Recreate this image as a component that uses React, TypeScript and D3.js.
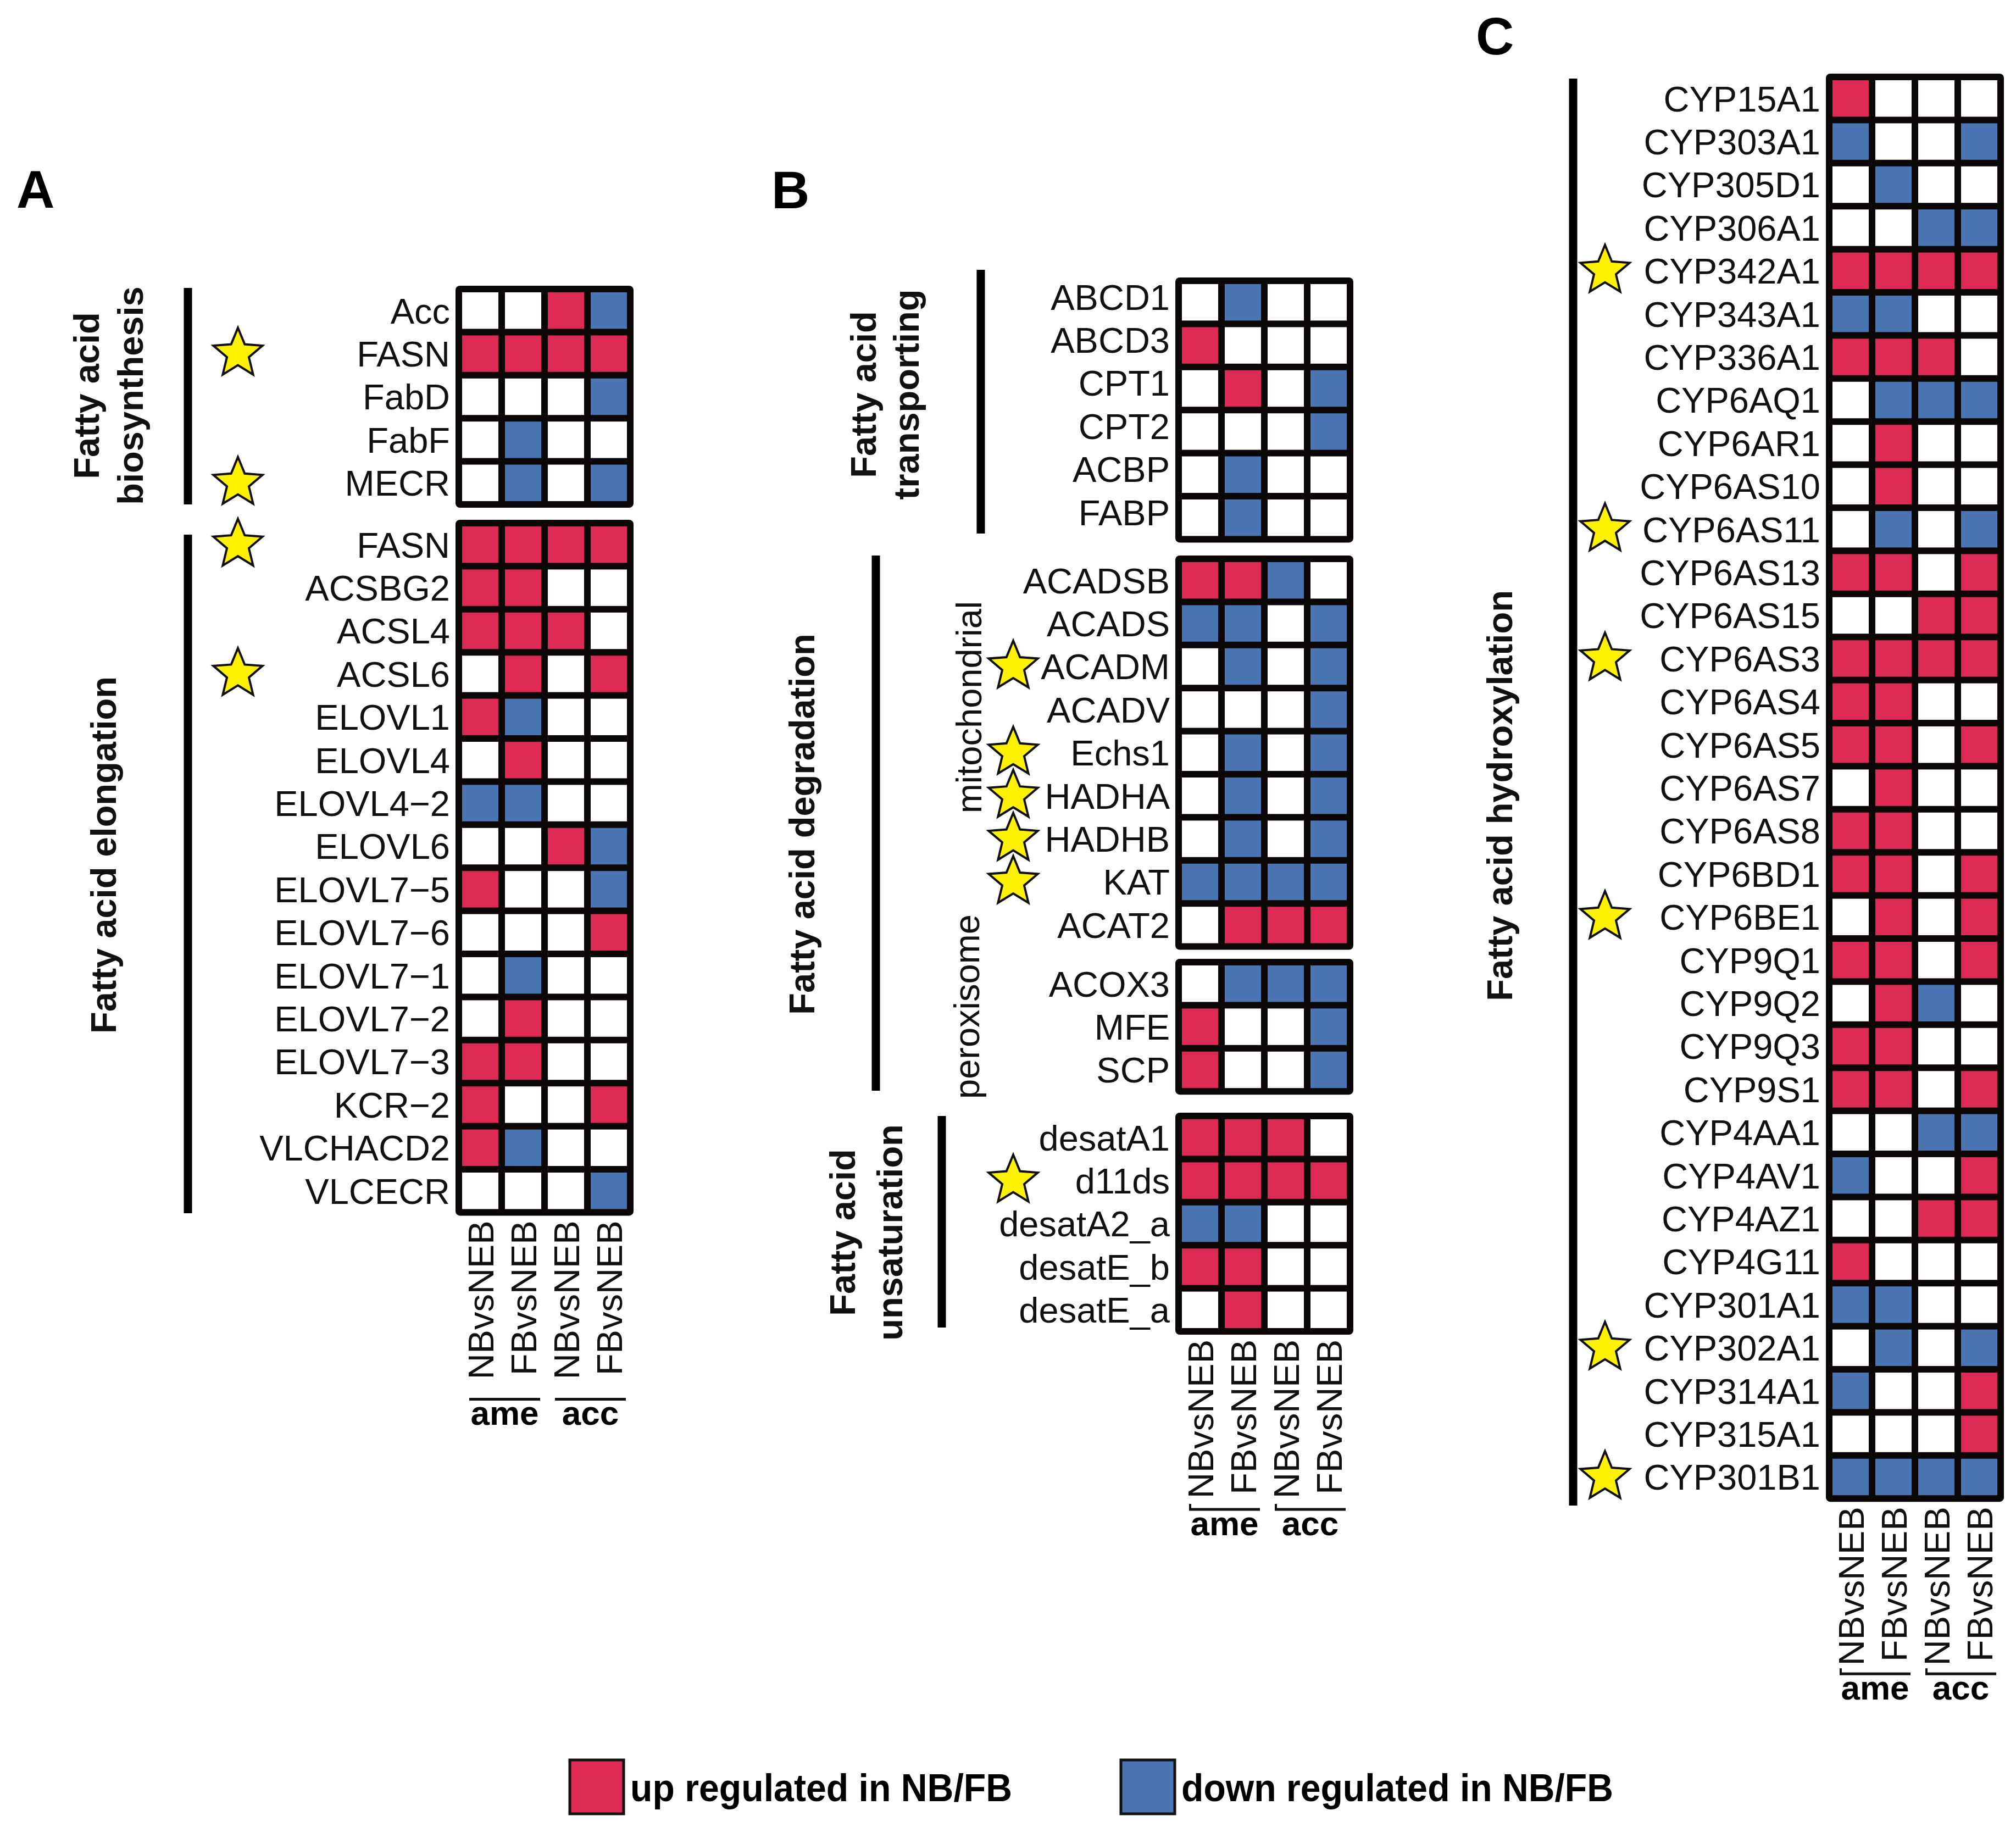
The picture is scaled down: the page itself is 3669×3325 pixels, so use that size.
import * as d3 from 'd3'

const UP = '#DD2A55'
const DOWN = '#4A74B2'
const STAR = '#FFF200'
const FONT = 'Liberation Sans, Arial, Helvetica, sans-serif'

// columns of every heatmap
const columnKeys = ['ame-NB', 'ame-FB', 'acc-NB', 'acc-FB']
const comparisons = ['NBvsNEB', 'FBvsNEB', 'NBvsNEB', 'FBvsNEB']
const speciesNames = ['ame', 'acc']

// 1 = up regulated, -1 = down regulated, 0 = not changed
// A: fatty acid biosynthesis
const synthGenes = ['Acc', 'FASN', 'FabD', 'FabF', 'MECR']
const synthCalls = [[0, 0, 1, -1], [1, 1, 1, 1], [0, 0, 0, -1], [0, -1, 0, 0], [0, -1, 0, -1]]
const synthStars = ['FASN', 'MECR']

// A: fatty acid elongation
const elongGenes = ['FASN', 'ACSBG2', 'ACSL4', 'ACSL6', 'ELOVL1', 'ELOVL4', 'ELOVL4−2', 'ELOVL6', 'ELOVL7−5', 'ELOVL7−6', 'ELOVL7−1', 'ELOVL7−2', 'ELOVL7−3', 'KCR−2', 'VLCHACD2', 'VLCECR']
const elongCalls = [
  [1, 1, 1, 1], [1, 1, 0, 0], [1, 1, 1, 0], [0, 1, 0, 1], [1, -1, 0, 0], [0, 1, 0, 0],
  [-1, -1, 0, 0], [0, 0, 1, -1], [1, 0, 0, -1], [0, 0, 0, 1], [0, -1, 0, 0], [0, 1, 0, 0],
  [1, 1, 0, 0], [1, 0, 0, 1], [1, -1, 0, 0], [0, 0, 0, -1]
]
const elongStars = ['FASN', 'ACSL6']

// B: fatty acid transporting
const transGenes = ['ABCD1', 'ABCD3', 'CPT1', 'CPT2', 'ACBP', 'FABP']
const transCalls = [[0, -1, 0, 0], [1, 0, 0, 0], [0, 1, 0, -1], [0, 0, 0, -1], [0, -1, 0, 0], [0, -1, 0, 0]]
const transStars: string[] = []

// B: degradation, mitochondrial
const mitoGenes = ['ACADSB', 'ACADS', 'ACADM', 'ACADV', 'Echs1', 'HADHA', 'HADHB', 'KAT', 'ACAT2']
const mitoCalls = [
  [1, 1, -1, 0], [-1, -1, 0, -1], [0, -1, 0, -1], [0, 0, 0, -1], [0, -1, 0, -1],
  [0, -1, 0, -1], [0, -1, 0, -1], [-1, -1, -1, -1], [0, 1, 1, 1]
]
const mitoStars = ['ACADM', 'Echs1', 'HADHA', 'HADHB', 'KAT']

// B: degradation, peroxisome
const peroxGenes = ['ACOX3', 'MFE', 'SCP']
const peroxCalls = [[0, -1, -1, -1], [1, 0, 0, -1], [1, 0, 0, -1]]
const peroxStars: string[] = []

// B: fatty acid unsaturation
const desatGenes = ['desatA1', 'd11ds', 'desatA2_a', 'desatE_b', 'desatE_a']
const desatCalls = [[1, 1, 1, 0], [1, 1, 1, 1], [-1, -1, 0, 0], [1, 1, 0, 0], [0, 1, 0, 0]]
const desatStars = ['d11ds']

// C: fatty acid hydroxylation
const cypGenes = [
  'CYP15A1', 'CYP303A1', 'CYP305D1', 'CYP306A1', 'CYP342A1', 'CYP343A1', 'CYP336A1', 'CYP6AQ1',
  'CYP6AR1', 'CYP6AS10', 'CYP6AS11', 'CYP6AS13', 'CYP6AS15', 'CYP6AS3', 'CYP6AS4', 'CYP6AS5',
  'CYP6AS7', 'CYP6AS8', 'CYP6BD1', 'CYP6BE1', 'CYP9Q1', 'CYP9Q2', 'CYP9Q3', 'CYP9S1',
  'CYP4AA1', 'CYP4AV1', 'CYP4AZ1', 'CYP4G11', 'CYP301A1', 'CYP302A1', 'CYP314A1', 'CYP315A1', 'CYP301B1'
]
const cypCalls = [
  [1, 0, 0, 0], [-1, 0, 0, -1], [0, -1, 0, 0], [0, 0, -1, -1], [1, 1, 1, 1], [-1, -1, 0, 0],
  [1, 1, 1, 0], [0, -1, -1, -1], [0, 1, 0, 0], [0, 1, 0, 0], [0, -1, 0, -1], [1, 1, 0, 1],
  [0, 0, 1, 1], [1, 1, 1, 1], [1, 1, 0, 0], [1, 1, 0, 1], [0, 1, 0, 0], [1, 1, 0, 0],
  [1, 1, 0, 1], [0, 1, 0, 1], [1, 1, 0, 1], [0, 1, -1, 0], [1, 1, 0, 0], [1, 1, 0, 1],
  [0, 0, -1, -1], [-1, 0, 0, 1], [0, 0, 1, 1], [1, 0, 0, 0], [-1, -1, 0, 0], [0, -1, 0, -1],
  [-1, 0, 0, 1], [0, 0, 0, 1], [-1, -1, -1, -1]
]
const cypStars = ['CYP342A1', 'CYP6AS11', 'CYP6AS3', 'CYP6BE1', 'CYP302A1', 'CYP301B1']

const legendLabels = ['up regulated in NB/FB', 'down regulated in NB/FB']

// layout
const CELL_W = 78
const CELL_H = 78.4
const GAP = 12

interface Block { genes: string[]; calls: number[][]; stars: string[]; top: number; labelShift?: number }
interface Panel { id: string; labelX: number; labelY: number; left: number; starX: number; lineOffset: number; tick: boolean; blocks: Block[] }

const panels: Panel[] = [
  {
    id: 'A', labelX: 30, labelY: 378, left: 829, starX: 433, lineOffset: 334, tick: false,
    blocks: [
      { genes: synthGenes, calls: synthCalls, stars: synthStars, top: 520 },
      { genes: elongGenes, calls: elongCalls, stars: elongStars, top: 946 }
    ]
  },
  {
    id: 'B', labelX: 1404, labelY: 379, left: 2139, starX: 1844, lineOffset: 318, tick: true,
    blocks: [
      { genes: transGenes, calls: transCalls, stars: transStars, top: 505, labelShift: -10 },
      { genes: mitoGenes, calls: mitoCalls, stars: mitoStars, top: 1011 },
      { genes: peroxGenes, calls: peroxCalls, stars: peroxStars, top: 1745 },
      { genes: desatGenes, calls: desatCalls, stars: desatStars, top: 2025 }
    ]
  },
  {
    id: 'C', labelX: 2686, labelY: 99, left: 3323, starX: 2921, lineOffset: 313, tick: true,
    blocks: [{ genes: cypGenes, calls: cypCalls, stars: cypStars, top: 134 }]
  }
]

// vertical brackets and group titles
const bars = [
  { x: 342, y1: 524, y2: 918 },
  { x: 342, y1: 973, y2: 2208 },
  { x: 1785, y1: 491, y2: 971 },
  { x: 1594, y1: 1011, y2: 1985 },
  { x: 1714, y1: 2031, y2: 2416 },
  { x: 2863, y1: 143, y2: 2740 }
]

const groupTitles = [
  { lines: ['Fatty acid', 'biosynthesis'], xs: [180, 260], cy: 720, bold: true },
  { lines: ['Fatty acid elongation'], xs: [211], cy: 1556, bold: true },
  { lines: ['Fatty acid', 'transporting'], xs: [1594, 1672], cy: 718, bold: true },
  { lines: ['Fatty acid degradation'], xs: [1482], cy: 1500, bold: true },
  { lines: ['Fatty acid', 'unsaturation'], xs: [1556, 1642], cy: 2243, bold: true },
  { lines: ['mitochondrial'], xs: [1786], cy: 1287, bold: false },
  { lines: ['peroxisome'], xs: [1782], cy: 1832, bold: false },
  { lines: ['Fatty acid hydroxylation'], xs: [2752], cy: 1448, bold: true }
]

const color = d3.scaleOrdinal<number, string>().domain([1, -1, 0]).range([UP, DOWN, 'white'])

function starPath(R: number, r: number) {
  const pts: [number, number][] = d3.range(10).map(k => [(k * Math.PI) / 5, k % 2 === 0 ? R : r])
  return d3.lineRadial().curve(d3.curveLinearClosed)(pts) as string
}
const STAR_D = starPath(47, 21)

function HeatBlock({ block, left, starX }: { block: Block; left: number; starX: number }) {
  const keys = block.genes.map((g, i) => g + i)
  const x = d3.scaleBand<string>().domain(columnKeys).range([left + GAP / 2, left + GAP / 2 + 4 * CELL_W])
  const y = d3.scaleBand<string>().domain(keys)
    .range([block.top + GAP / 2, block.top + GAP / 2 + block.genes.length * CELL_H])
  const shift = block.labelShift ?? 0
  return (
    <g>
      <rect x={left} y={block.top} width={4 * CELL_W + GAP} height={block.genes.length * CELL_H + GAP} rx={8} fill="#0b0706" />
      {block.calls.map((row, i) =>
        row.map((v, j) => (
          <rect key={`${i}-${j}`}
            x={(x(columnKeys[j]) as number) + GAP / 2}
            y={(y(keys[i]) as number) + GAP / 2}
            width={x.bandwidth() - GAP}
            height={y.bandwidth() - GAP}
            fill={color(v)} />
        ))
      )}
      {block.genes.map((g, i) => (
        <text key={g} x={left - 10} y={(y(keys[i]) as number) + y.bandwidth() / 2 + shift} dy="0.36em"
          textAnchor="end" fontSize={65} fontFamily={FONT} fill="#111">{g}</text>
      ))}
      {block.genes.map((g, i) => block.stars.includes(g) ? (
        <path key={'s' + g} d={STAR_D}
          transform={`translate(${starX},${(y(keys[i]) as number) + y.bandwidth() / 2})`}
          fill={STAR} stroke="#111" strokeWidth={4} strokeLinejoin="miter" />
      ) : null)}
    </g>
  )
}

function PanelView({ p }: { p: Panel }) {
  const last = p.blocks[p.blocks.length - 1]
  const bottom = last.top + last.genes.length * CELL_H + GAP
  const x = d3.scaleBand<string>().domain(columnKeys).range([p.left + GAP / 2, p.left + GAP / 2 + 4 * CELL_W])
  const lineY = bottom + p.lineOffset
  return (
    <g>
      <text x={p.labelX} y={p.labelY} fontSize={96} fontWeight="bold" fontFamily={FONT}>{p.id}</text>
      {p.blocks.map((b, i) => <HeatBlock key={i} block={b} left={p.left} starX={p.starX} />)}
      {columnKeys.map((k, j) => {
        const cx = (x(k) as number) + x.bandwidth() / 2 + 24
        return (
          <text key={k} transform={`translate(${cx},${bottom + 9}) rotate(-90)`} textAnchor="end"
            fontSize={65} fontFamily={FONT} fill="#111">{comparisons[j]}</text>
        )
      })}
      {speciesNames.map((s, i) => {
        const x1 = (x(columnKeys[i * 2]) as number) + 19
        const x2 = (x(columnKeys[i * 2 + 1]) as number) + x.bandwidth() - 8
        return (
          <g key={s}>
            <line x1={x1} x2={x2} y1={lineY} y2={lineY} stroke="#111" strokeWidth={5} />
            {p.tick && <line x1={x1 + 2} x2={x1 + 2} y1={lineY - 10} y2={lineY + 2} stroke="#111" strokeWidth={4} />}
            <text x={(x1 + x2) / 2} y={lineY + 47} textAnchor="middle" fontSize={62}
              fontWeight="bold" fontFamily={FONT}>{s}</text>
          </g>
        )
      })}
    </g>
  )
}

export default function App() {
  const legendX = d3.scaleOrdinal<string, number>().domain(legendLabels).range([1037, 2040])
  const legendLen = d3.scaleOrdinal<string, number>().domain(legendLabels).range([695, 786])
  return (
    <svg width={3669} height={3325} viewBox="0 0 3669 3325"
      style={{ position: 'absolute', left: 0, top: 0, background: 'white' }}>
      <rect width={3669} height={3325} fill="white" />
      {bars.map((b, i) => (
        <line key={i} x1={b.x} x2={b.x} y1={b.y1} y2={b.y2} stroke="#000" strokeWidth={15} />
      ))}
      {groupTitles.map((t, i) => (
        <g key={i}>
          {t.lines.map((l, k) => (
            <text key={k} transform={`translate(${t.xs[k]},${t.cy}) rotate(-90)`} textAnchor="middle"
              fontSize={65} fontWeight={t.bold ? 'bold' : 'normal'} fontFamily={FONT} fill="#111">{l}</text>
          ))}
        </g>
      ))}
      {panels.map(p => <PanelView key={p.id} p={p} />)}
      {legendLabels.map((l, i) => (
        <g key={l}>
          <rect x={legendX(l)} y={3203} width={98} height={98} fill={i === 0 ? UP : DOWN} stroke="#111" strokeWidth={5} />
          <text x={legendX(l) + 110} y={3278} fontSize={70} fontWeight="bold" fontFamily={FONT}
            textLength={legendLen(l)} lengthAdjust="spacingAndGlyphs">{l}</text>
        </g>
      ))}
    </svg>
  )
}
